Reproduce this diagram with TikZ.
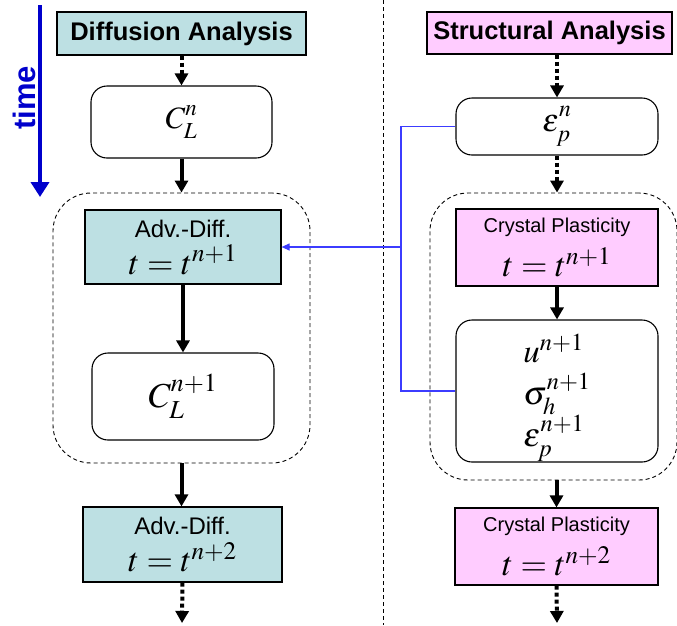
\documentclass[tikz,border=0pt]{standalone}
\usepackage{mathptmx}
\usepackage[no-math]{fontspec}
\setmainfont{Liberation Sans}
\usetikzlibrary{arrows.meta}

\definecolor{diffcol}{RGB}{189,224,227}
\definecolor{structcol}{RGB}{255,204,255}
\definecolor{timeblue}{RGB}{0,0,204}
\definecolor{linkblue}{RGB}{60,60,255}

% sub- and superscript pushed a little further apart
\newcommand{\ssx}[2]{_{\raisebox{-2.5pt}{$\scriptstyle #1$}}^{\raisebox{2.5pt}{$\scriptstyle #2$}}}

\tikzset{
  headbox/.style={draw, line width=1.2pt, inner sep=0pt,
    font=\fontsize{25.5}{30}\selectfont\bfseries},
  stepbox/.style={draw, line width=1.2pt, inner sep=0pt, align=center},
  valbox/.style={draw, line width=1.1pt, rounded corners=16pt, inner sep=0pt, align=center},
  groupbox/.style={draw, line width=0.9pt, dash pattern=on 4pt off 3pt, rounded corners=38pt},
  flow/.style={line width=4pt, -{Triangle[width=13pt,length=12pt]}},
  dflow/.style={flow, dash pattern=on 4pt off 3pt},
  link/.style={draw=linkblue, line width=1.1pt},
}

\begin{document}
\begin{tikzpicture}[x=1pt, y=-1pt]
\useasboundingbox (0,0) rectangle (677,625);

% time axis
\coordinate (ttop) at (40,5);
\coordinate (tbot) at (40,197);
\draw[draw=timeblue, line width=4pt, -{Triangle[width=18pt,length=15pt]}] (ttop) -- (tbot);
\node[rotate=90, text=timeblue, font=\fontsize{31}{34}\selectfont\bfseries] (timelbl) at (24,98) {time};

% separator between the two solvers
\coordinate (sepA) at (383,0);
\coordinate (sepB) at (383,625);
\draw[line width=0.8pt, dash pattern=on 4pt off 3pt] (sepA) -- (sepB);

% ---------------- diffusion side ----------------
\node[headbox, fill=diffcol, minimum width=249pt, minimum height=43pt] (dhead) at (181.5,33.5) {Diffusion Analysis};
\node[valbox, font=\fontsize{31}{34}\selectfont, minimum width=181pt, minimum height=72pt] (cln) at (181.5,122) {$C\ssx{L}{n}$};
\node[groupbox, minimum width=257pt, minimum height=270pt] (dgroup) at (181.5,328) {};
\node[stepbox, fill=diffcol, minimum width=196pt, minimum height=74pt,
      font=\fontsize{24}{37}\selectfont] (ad1) at (183,247)
      {Adv.-Diff.\\{\fontsize{34}{37}\selectfont$t=t^{n+1}$}};
\node[valbox, font=\fontsize{35}{38}\selectfont, minimum width=182pt, minimum height=87pt] (cln1) at (183,396.5) {$C\ssx{L}{n+1}$};
\node[stepbox, fill=diffcol, minimum width=199pt, minimum height=75pt,
      font=\fontsize{24}{37}\selectfont] (ad2) at (182.5,544.5)
      {Adv.-Diff.\\{\fontsize{34}{37}\selectfont$t=t^{n+2}$}};
\coordinate (dend) at (182,623);

\draw[dflow] (dhead.south -| cln.north) -- (cln.north);
\draw[flow] (cln.south) -- (dgroup.north);
\draw[flow] (ad1.south) -- (ad1.south |- cln1.north);
\draw[flow] (dgroup.south) -- (dgroup.south |- ad2.north);
\draw[dflow] (ad2.south) -- (dend);

% ---------------- structural side ----------------
\node[headbox, fill=structcol, minimum width=245pt, minimum height=42pt] (shead) at (549.5,33) {Structural Analysis};
\node[valbox, font=\fontsize{32}{34}\selectfont, minimum width=202pt, minimum height=57pt] (epn) at (557,126.5) {$\varepsilon\ssx{p}{n}$};
\node[groupbox, minimum width=247pt, minimum height=287pt] (sgroup) at (553.5,336.5) {};
\node[stepbox, fill=structcol, minimum width=202pt, minimum height=77pt,
      font=\fontsize{20}{44}\selectfont] (cp1) at (557,247.5)
      {Crystal Plasticity\\{\fontsize{34}{44}\selectfont$t=t^{n+1}$}};
\node[valbox, minimum width=202pt, minimum height=142pt, font=\fontsize{33}{37.5}\selectfont] (ueps) at (557,391)
      {\raisebox{-15pt}[0pt][0pt]{$\begin{array}{@{}l@{}}u^{n+1}\\ \sigma\ssx{h}{n+1}\\ \varepsilon\ssx{p}{n+1}\end{array}$}};
\node[stepbox, fill=structcol, minimum width=203pt, minimum height=77pt,
      font=\fontsize{20}{44}\selectfont] (cp2) at (556.5,546.5)
      {Crystal Plasticity\\{\fontsize{34}{44}\selectfont$t=t^{n+2}$}};
\coordinate (send) at (557,623);

\draw[dflow] (shead.south -| epn.north) -- (epn.north);
\draw[dflow] (epn.south) -- (epn.south |- sgroup.north);
\draw[flow] (cp1.south) -- (cp1.south |- ueps.north);
\draw[flow] (sgroup.south -| cp2.north) -- (cp2.north);
\draw[dflow] (cp2.south) -- (send);

% ---------------- coupling ----------------
\coordinate (bus) at (401,248);
\draw[link] (epn.west) -- (epn.west -| bus) |- (ueps.west);
\draw[link, -{Triangle[width=7pt,length=8pt]}] (bus |- ad1.east) -- (ad1.east);
\end{tikzpicture}
\end{document}
